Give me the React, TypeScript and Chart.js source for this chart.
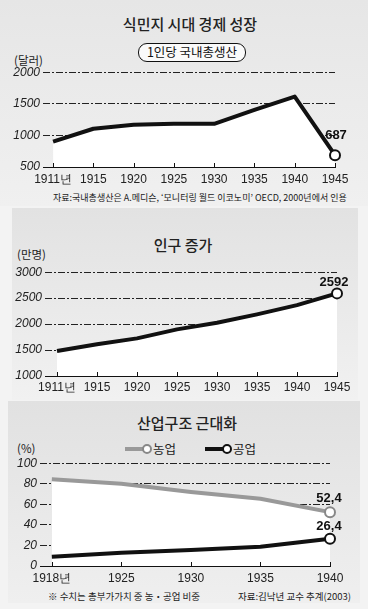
import React, { useEffect, useRef } from "react";
import { Chart, registerables } from "chart.js";
Chart.register(...registerables);

// ---- data ----
const gdpYears = ["1911년", "1915", "1920", "1925", "1930", "1935", "1940", "1945"];
const gdpValues = [900, 1105, 1170, 1185, 1183, 1405, 1615, 687];
const gdpTicks = [500, 1000, 1500, 2000];

const popYears = ["1911년", "1915", "1920", "1925", "1930", "1935", "1940", "1945"];
const popValues = [1480, 1610, 1725, 1898, 2025, 2187, 2365, 2592];
const popTicks = [1000, 1500, 2000, 2500, 3000];

const indYears = ["1918년", "1925", "1930", "1935", "1940"];
const agriValues = [84.5, 80, 72, 65.5, 52.4];
const industryValues = [9, 12.9, 15.5, 18.7, 26.4];
const indTicks = [0, 20, 40, 60, 80, 100];

const NUM_FONT = "'Liberation Sans', Arial, sans-serif";
const KR_FONT = "'Noto Sans CJK KR', 'Noto Sans', sans-serif";

const decorPlugin = {
  id: "decor",
  afterDraw(chart: any, _args: any, opts: any) {
    const ctx = chart.ctx;
    const xs = chart.scales.x;
    const bottom = chart.chartArea.bottom;
    ctx.save();
    ctx.strokeStyle = "#111";
    ctx.lineWidth = 1;
    xs.ticks.forEach((t: any) => {
      const px = Math.round(xs.getPixelForValue(t.value)) + 0.5;
      ctx.beginPath();
      ctx.moveTo(px, bottom);
      ctx.lineTo(px, bottom - 4);
      ctx.stroke();
    });
    (opts.labels || []).forEach((l: any) => {
      const el = chart.getDatasetMeta(l.ds).data[l.idx];
      if (!el) return;
      ctx.font = `bold 13px ${NUM_FONT}`;
      ctx.fillStyle = "#111";
      ctx.textAlign = "center";
      ctx.textBaseline = "middle";
      ctx.fillText(l.text, el.x + l.dx, el.y + l.dy);
    });
    ctx.restore();
  },
};

type DS = { data: number[]; color: string; fill: boolean; markerBorder: string };

function LineChart(props: {
  left: number; top: number; width: number; height: number;
  labels: string[]; datasets: DS[];
  yMin: number; yMax: number; yTicks: number[];
  xMin: number; yWidth: number; xHeight: number;
  padTop: number; padRight: number; tickPad: number;
  valueLabels: any[];
}) {
  const ref = useRef<HTMLCanvasElement>(null);
  useEffect(() => {
    const p = props;
    const n = p.labels.length;
    const chart = new Chart(ref.current as HTMLCanvasElement, {
      type: "line",
      data: {
        datasets: p.datasets.map((d) => ({
          data: d.data.map((v, i) => ({ x: i, y: v })),
          borderColor: d.color,
          borderWidth: 4,
          borderJoinStyle: "round",
          tension: 0,
          clip: false,
          fill: d.fill ? "start" : false,
          backgroundColor: "#ffffff",
          pointRadius: d.data.map((_, i) => (i === n - 1 ? 5 : 0)),
          pointBackgroundColor: "#ffffff",
          pointBorderColor: d.markerBorder,
          pointBorderWidth: 2,
        })),
      } as any,
      options: {
        animation: false,
        responsive: false,
        maintainAspectRatio: false,
        layout: { padding: { left: 0, right: p.padRight, top: p.padTop, bottom: 0 } },
        plugins: {
          legend: { display: false },
          tooltip: { enabled: false },
          decor: { labels: p.valueLabels },
        } as any,
        scales: {
          x: {
            type: "linear",
            min: p.xMin,
            max: n - 1,
            z: 1,
            afterBuildTicks: (s: any) => { s.ticks = p.labels.map((_, i) => ({ value: i })); },
            afterFit: (s: any) => { s.height = p.xHeight; },
            grid: { display: true, drawOnChartArea: false, drawTicks: false },
            border: { display: true, color: "#111", width: 1 },
            ticks: {
              padding: p.tickPad,
              color: "#222",
              font: { family: NUM_FONT, size: 12 },
              maxRotation: 0,
              autoSkip: false,
              callback: (v: any) => p.labels[v as number],
            },
          },
          y: {
            min: p.yMin,
            max: p.yMax,
            z: 1,
            afterBuildTicks: (s: any) => { s.ticks = p.yTicks.map((v) => ({ value: v })); },
            afterFit: (s: any) => { s.width = p.yWidth; },
            grid: { color: "#222", lineWidth: 1, drawTicks: false },
            border: { display: false, dash: [7, 2, 2, 2] },
            ticks: {
              padding: 3,
              color: "#222",
              font: { family: NUM_FONT, size: 12, style: "italic" },
              callback: (v: any) => String(v),
            },
          },
        } as any,
      },
      plugins: [decorPlugin],
    });
    return () => chart.destroy();
  }, []);
  return (
    <canvas
      ref={ref}
      width={props.width}
      height={props.height}
      style={{ position: "absolute", left: props.left, top: props.top, width: props.width, height: props.height }}
    />
  );
}

const abs = (s: any): any => ({ position: "absolute", whiteSpace: "nowrap", lineHeight: 1, ...s });

function Text({ x, y, size, children, center, weight, color }: any) {
  return (
    <div style={abs({ left: x, top: y, fontSize: size, fontWeight: weight || 400, color: color || "#222",
      transform: center ? "translate(-50%, -50%)" : "translateY(-50%)" })}>{children}</div>
  );
}

function LegendItem({ x, y, color, label }: any) {
  return (
    <>
      <div style={abs({ left: x, top: y - 2, width: 20, height: 4, background: color })} />
      <div style={abs({ left: x + 17, top: y - 5, width: 6, height: 6, borderRadius: "50%", background: "#fff", border: `2px solid ${color === "#111" ? "#111" : "#888"}` })} />
      <Text x={x + 28} y={y} size={12.5}>{label}</Text>
    </>
  );
}

export default function App() {
  return (
    <div style={abs({ left: 0, top: 0, width: 368, height: 609, background: "#f3f3f3", overflow: "hidden", fontFamily: KR_FONT })}>
      {/* panel backgrounds */}
      <div style={abs({ left: 0, top: 0, width: 368, height: 206, background: "linear-gradient(#e6e6e6, #f0f0f0)" })} />
      <div style={abs({ left: 12, top: 208, width: 346, height: 192, background: "linear-gradient(#e2e2e2, #f1f1f1)" })} />
      <div style={abs({ left: 8, top: 401, width: 352, height: 202, background: "linear-gradient(#e1e1e1, #efefef)" })} />

      {/* panel 1 */}
      <Text x={190} y={23} size={15} center weight={500}>식민지 시대 경제 성장</Text>
      <div style={abs({ left: 138, top: 43, width: 106, height: 17, border: "1.5px solid #111", borderRadius: 9, background: "#fafafa",
        fontSize: 12.5, display: "flex", alignItems: "center", justifyContent: "center", color: "#111" })}>1인당 국내총생산</div>
      <Text x={14} y={61} size={11.5}>(달러)</Text>
      <LineChart left={0} top={62} width={368} height={127}
        labels={gdpYears}
        datasets={[{ data: gdpValues, color: "#111", fill: true, markerBorder: "#111" }]}
        yMin={500} yMax={2000} yTicks={gdpTicks} xMin={-0.25} yWidth={43} xHeight={22}
        padTop={10} padRight={33} tickPad={5}
        valueLabels={[{ ds: 0, idx: gdpValues.length - 1, text: String(gdpValues[gdpValues.length - 1]), dx: 1, dy: -20 }]}
      />
      <Text x={53} y={197} size={9}>자료:국내총생산은 A.메디슨, ‘모니터링 월드 이코노미’ OECD, 2000년에서 인용</Text>

      {/* panel 2 */}
      <Text x={183} y={244} size={15} center weight={500}>인구 증가</Text>
      <Text x={17} y={255} size={11.5}>(만명)</Text>
      <LineChart left={0} top={262} width={368} height={136}
        labels={popYears}
        datasets={[{ data: popValues, color: "#111", fill: true, markerBorder: "#111" }]}
        yMin={1000} yMax={3000} yTicks={popTicks} xMin={-0.3} yWidth={45} xHeight={22}
        padTop={10} padRight={31} tickPad={4}
        valueLabels={[{ ds: 0, idx: popValues.length - 1, text: String(popValues[popValues.length - 1]), dx: -3, dy: -11 }]}
      />

      {/* panel 3 */}
      <Text x={187} y={422} size={15} center weight={500}>산업구조 근대화</Text>
      <Text x={17} y={449} size={11.5}>(%)</Text>
      <LegendItem x={125} y={449} color="#999" label="농업" />
      <LegendItem x={205} y={449} color="#111" label="공업" />
      <LineChart left={0} top={453} width={368} height={135}
        labels={indYears}
        datasets={[
          { data: industryValues, color: "#111", fill: false, markerBorder: "#111" },
          { data: agriValues, color: "#999", fill: true, markerBorder: "#888" },
        ]}
        yMin={0} yMax={100} yTicks={indTicks} xMin={-0.17} yWidth={40} xHeight={22}
        padTop={10} padRight={38} tickPad={5}
        valueLabels={[
          { ds: 1, idx: agriValues.length - 1, text: agriValues[agriValues.length - 1].toFixed(1).replace(".", ","), dx: -1, dy: -14 },
          { ds: 0, idx: industryValues.length - 1, text: industryValues[industryValues.length - 1].toFixed(1).replace(".", ","), dx: -1, dy: -12 },
        ]}
      />
      <Text x={48} y={597} size={9.5}>※ 수치는 총부가가치 중 농・공업 비중</Text>
      <Text x={238} y={597} size={9.5}>자료:김낙년 교수 추계(2003)</Text>
    </div>
  );
}
